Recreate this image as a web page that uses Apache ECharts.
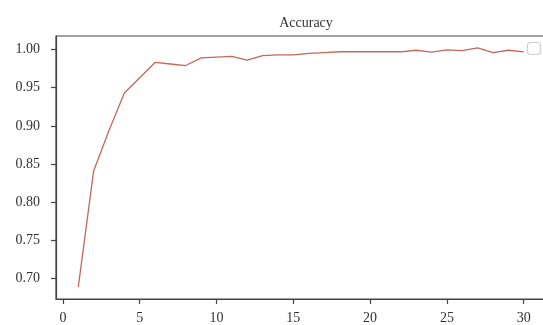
<!DOCTYPE html>
<html>
<head>
<meta charset="utf-8">
<title>Accuracy</title>
<script src="https://cdn.jsdelivr.net/npm/echarts@6/dist/echarts.min.js"></script>
<style>
  html, body { margin: 0; padding: 0; background: #fff; overflow: hidden; }
  #chart { width: 547px; height: 325px; }
</style>
</head>
<body>
<div id="chart"></div>
<script>
// Training accuracy per epoch
const epochs = [1, 2, 3, 4, 5, 6, 7, 8, 9, 10, 11, 12, 13, 14, 15,
                16, 17, 18, 19, 20, 21, 22, 23, 24, 25, 26, 27, 28, 29, 30];
const accuracy = [0.689, 0.841, 0.894, 0.943, 0.963, 0.983, 0.981, 0.979, 0.989, 0.990,
                  0.991, 0.986, 0.992, 0.993, 0.993, 0.995, 0.996, 0.997, 0.997, 0.997,
                  0.997, 0.997, 0.999, 0.9965, 0.9995, 0.9985, 1.002, 0.996, 0.999, 0.997];
const xTicks = [0, 5, 10, 15, 20, 25, 30];
const yTicks = [0.70, 0.75, 0.80, 0.85, 0.90, 0.95, 1.00];

// 5% padding around the data range on both axes
const xSpan = epochs[epochs.length - 1] - epochs[0];
const xMin = epochs[0] - xSpan * 0.05;
const xMax = epochs[epochs.length - 1] + xSpan * 0.05;
const yLo = Math.min(...accuracy), yHi = Math.max(...accuracy);
const yMin = yLo - (yHi - yLo) * 0.05;
const yMax = yHi + (yHi - yLo) * 0.05;

const axisColor = '#444';
const textColor = '#333';
const fontFamily = '"Liberation Serif", "DejaVu Serif", serif';

const chart = echarts.init(document.getElementById('chart'), null, { renderer: 'canvas' });
chart.setOption({
  animation: false,
  backgroundColor: '#fff',
  title: {
    text: 'Accuracy',
    left: 301,
    top: 11,
    textAlign: 'center',
    textStyle: { fontFamily, fontSize: 14, fontWeight: 'normal', color: textColor }
  },
  grid: {
    left: 56, right: 1, top: 36, bottom: 25,
    show: true, borderColor: axisColor, borderWidth: 1.2, backgroundColor: 'transparent'
  },
  xAxis: {
    type: 'value',
    min: xMin,
    max: xMax,
    splitLine: { show: false },
    axisLine: { show: true, onZero: false, lineStyle: { color: axisColor, width: 1.2 } },
    axisTick: { show: true, length: 5, customValues: xTicks, lineStyle: { color: axisColor, width: 1.2 } },
    axisLabel: {
      customValues: xTicks, margin: 12,
      fontFamily, fontSize: 14, color: textColor,
      formatter: v => String(v)
    }
  },
  yAxis: {
    type: 'value',
    min: yMin,
    max: yMax,
    splitLine: { show: false },
    axisLine: { show: true, onZero: false, lineStyle: { color: axisColor, width: 1.2 } },
    axisTick: { show: true, length: 5, customValues: yTicks, lineStyle: { color: axisColor, width: 1.2 } },
    axisLabel: {
      customValues: yTicks, margin: 16,
      fontFamily, fontSize: 14, color: textColor,
      formatter: v => v.toFixed(2)
    }
  },
  series: [{
    type: 'line',
    data: epochs.map((e, i) => [e, accuracy[i]]),
    showSymbol: false,
    lineStyle: { color: '#c4685c', width: 1.3 },
    itemStyle: { color: '#c4685c' }
  }],
  // empty legend frame in the upper right corner
  graphic: [{
    type: 'rect',
    shape: { x: 527.5, y: 42.5, width: 13, height: 12, r: 3 },
    style: { fill: '#fff', stroke: '#cfcfcf', lineWidth: 1.2 }
  }]
});
</script>
</body>
</html>
